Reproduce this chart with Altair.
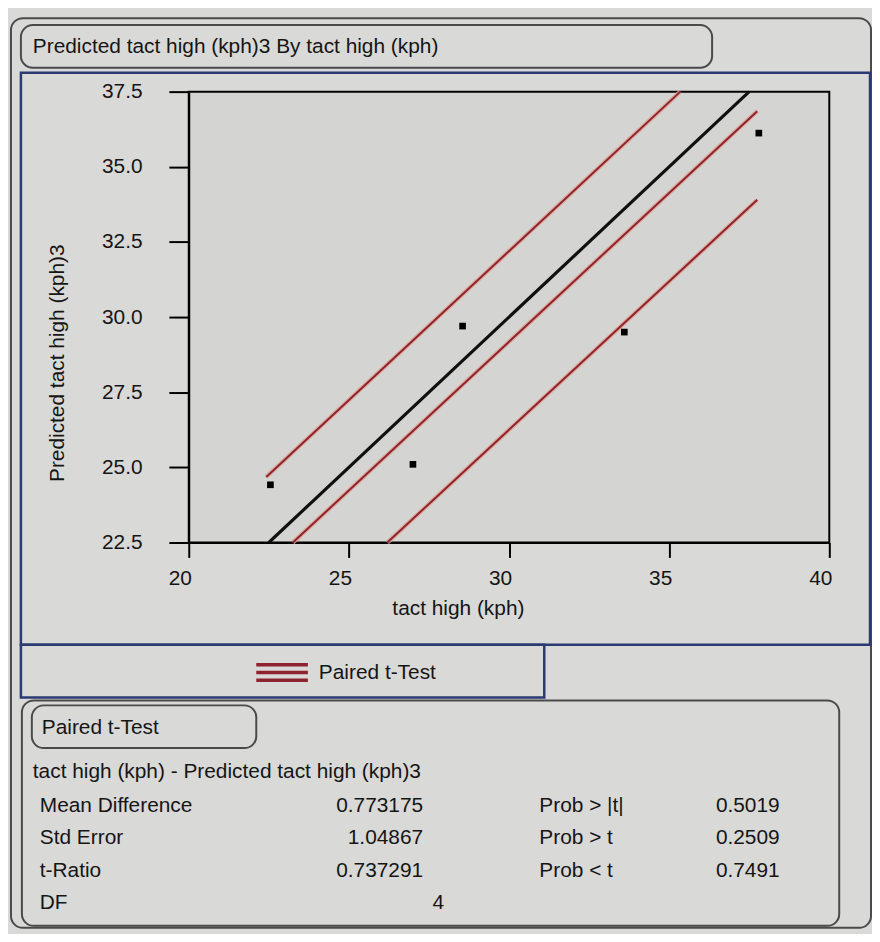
import altair as alt
import pandas as pd

# ---------------- data ----------------
x_vals = [22.55, 27.0, 28.55, 33.6, 37.8]            # tact high (kph)
y_vals = [24.42, 25.1, 29.7, 29.5, 36.12]            # Predicted tact high (kph)3

# line end points
diag_x = [22.5, 37.5]
diag_y = [22.5, 37.5]
upper_x = [22.42, 35.35]
upper_y = [24.68, 37.5]
mid_x = [23.25, 37.75]
mid_y = [22.5, 36.85]
lower_x = [26.2, 37.75]
lower_y = [22.5, 33.9]

x_ticks = [20, 25, 30, 35, 40]
y_ticks = [22.5, 25.0, 27.5, 30.0, 32.5, 35.0, 37.5]

report_title = "Predicted tact high (kph)3 By tact high (kph)"
x_title = "tact high (kph)"
y_title = "Predicted tact high (kph)3"
legend_label = "Paired t-Test"
table_title = "Paired t-Test"
table_subtitle = "tact high (kph) - Predicted tact high (kph)3"
stat_labels = ["Mean Difference", "Std Error", "t-Ratio", "DF"]
stat_values = ["0.773175", "1.04867", "0.737291", "4"]
prob_labels = ["Prob > |t|", "Prob > t", "Prob < t"]
prob_values = ["0.5019", "0.2509", "0.7491"]

# ---------------- styling ----------------
FONT = "Liberation Sans"
FS = 21
TXT = "#151515"
BG = "#d9d9d7"
PLOT_BG = "#d4d5d3"
RED = "#8e2330"
HALO = "#e0a08f"
BLUE = "#2b3a73"
GRAY = "#4a4a4a"
PL, PT = 190, 89          # page position of plot origin
W, H = 645, 454

points = pd.DataFrame({"x": x_vals, "y": y_vals})
red_lines = pd.DataFrame({
    "x": upper_x + mid_x + lower_x,
    "y": upper_y + mid_y + lower_y,
    "line": ["upper"] * 2 + ["mid"] * 2 + ["lower"] * 2,
    "test": [legend_label] * 6,
})
diag = pd.DataFrame({"x": diag_x, "y": diag_y})

xenc = alt.X("x:Q", scale=alt.Scale(domain=[20, 40], nice=False, zero=False),
             axis=alt.Axis(values=x_ticks, title=x_title, grid=False, format="d",
                           tickSize=15, tickWidth=2, tickColor="black",
                           domainColor="black", domainWidth=2,
                           labelFont=FONT, labelFontSize=FS, labelColor=TXT,
                           labelPadding=10, labelOffset=-9, labelFlush=False,
                           titleFont=FONT, titleFontSize=FS, titleColor=TXT,
                           titleFontWeight="normal", titleX=271, titleY=67,
                           titleAlign="center", titleBaseline="middle"))
yenc = alt.Y("y:Q", scale=alt.Scale(domain=[22.5, 37.5], nice=False, zero=False),
             axis=alt.Axis(values=y_ticks, title=y_title, grid=False, format=".1f",
                           tickSize=20, tickWidth=2, tickColor="black",
                           domainColor="black", domainWidth=2,
                           labelFont=FONT, labelFontSize=FS, labelColor=TXT,
                           labelPadding=27, labelFlush=False,
                           titleFont=FONT, titleFontSize=FS, titleColor=TXT,
                           titleFontWeight="normal", titleX=-132, titleY=273,
                           titleAngle=270, titleAlign="center", titleBaseline="middle"))

ONE = alt.Data(values=[{"a": 1}])


def box(x1, y1, x2, y2, stroke, sw, radius=0, opacity=None):
    kw = dict(stroke=stroke, strokeWidth=sw, fill="transparent")
    if radius:
        kw["cornerRadius"] = radius
    if opacity is not None:
        kw["opacity"] = opacity
    return alt.Chart(ONE).mark_rect(**kw).encode(
        x=alt.value(x1 - PL), x2=alt.value(x2 - PL),
        y=alt.value(y1 - PT), y2=alt.value(y2 - PT))


def label(x, y, s, align="left"):
    return alt.Chart(ONE).mark_text(
        text=s, align=align, baseline="middle", font=FONT, fontSize=FS, color=TXT
    ).encode(x=alt.value(x - PL), y=alt.value(y - PT))


layers = []
# bounds of the whole page content
layers.append(box(8, 8, 878, 934, BG, 0, opacity=0))
# outer frame, header box, blue panel, legend box, table boxes
layers.append(box(11, 15, 877, 931, GRAY, 2, radius=12))
layers.append(box(21, 22, 717, 65, GRAY, 2, radius=12))
layers.append(box(21, 70, 876, 646, BLUE, 2.5))
layers.append(box(21, 646, 548, 699, BLUE, 2.5))
layers.append(box(22, 702, 845, 929, GRAY, 2, radius=12))
layers.append(box(32, 707, 258, 750, GRAY, 2, radius=12))

layers.append(label(33, 44, report_title))
layers.append(label(42, 730, table_title))
layers.append(label(33, 774, table_subtitle))
row_y = [808, 841, 874, 906]
for i, (lab, val) in enumerate(zip(stat_labels, stat_values)):
    layers.append(label(40, row_y[i], lab))
    layers.append(label(447 if lab == "DF" else 426, row_y[i], val, align="right"))
for i, (lab, val) in enumerate(zip(prob_labels, prob_values)):
    layers.append(label(543, row_y[i], lab))
    layers.append(label(785, row_y[i], val, align="right"))

# chart marks
halo = alt.Chart(red_lines).mark_line(color=HALO, strokeWidth=4.5, opacity=0.8).encode(
    x=xenc, y=yenc, detail="line:N")
reds = alt.Chart(red_lines).mark_line(strokeWidth=2).encode(
    x=xenc, y=yenc, detail="line:N",
    color=alt.Color("test:N", scale=alt.Scale(domain=[legend_label], range=[RED]),
                    legend=alt.Legend(orient="none", legendX=66, legendY=557, title=None,
                                      padding=0,
                                      symbolType="M-1,-0.3L1,-0.3M-1,0L1,0M-1,0.3L1,0.3",
                                      symbolSize=2704, symbolStrokeWidth=3.5,
                                      symbolFillColor="transparent",
                                      labelFont=FONT, labelFontSize=FS, labelColor=TXT,
                                      labelOffset=9)))
black = alt.Chart(diag).mark_line(color="#101010", strokeWidth=3.2).encode(x=xenc, y=yenc)
pts = alt.Chart(points).mark_square(size=45, color="black", opacity=1).encode(x=xenc, y=yenc)

layers += [halo, reds, black, pts]

chart = alt.layer(*layers).properties(width=W, height=H, padding=0,
                                      background=BG).configure_view(
    stroke="black", strokeWidth=2, fill=PLOT_BG)

chart.save("out.html", embed_options={"renderer": "svg", "actions": False})
